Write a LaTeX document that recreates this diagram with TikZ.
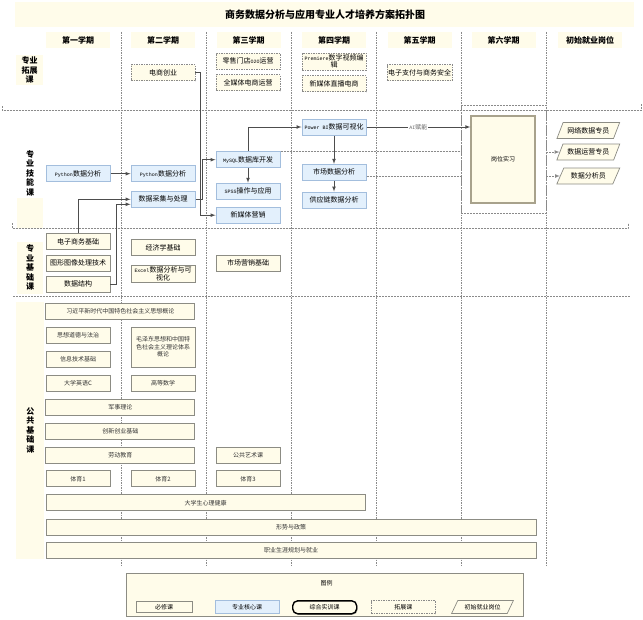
\documentclass[tikz,border=0pt]{standalone}
\usepackage{fontspec}
\setmainfont{Noto Sans CJK SC}
\setmonofont{Liberation Mono}
\usetikzlibrary{arrows}
\usetikzlibrary{shapes.geometric}
\usetikzlibrary{shadows}
\definecolor{cream}{HTML}{FFFCEA}
\definecolor{boxline}{HTML}{8C8C84}
\definecolor{gwline}{HTML}{A8A28C}
\definecolor{coreblue}{HTML}{E3F0FC}
\definecolor{coreline}{HTML}{A3BEDD}
\definecolor{sepgray}{HTML}{8A8A8A}
\definecolor{linkgray}{HTML}{4D4D4D}
\newcommand{\monotxt}[1]{{\fontsize{5}{6}\selectfont\ttfamily #1}}
\tikzstyle{course}=[rectangle, inner sep=1pt, minimum width=64pt, minimum height=16pt, align=center, font=\fontsize{7}{8.5}\selectfont]
\tikzstyle{must}=[course, draw=boxline, fill=cream, line width=0.8pt]
\tikzstyle{pub}=[must, font=\fontsize{6}{7.5}\selectfont, text=black!80]
\tikzstyle{core}=[course, draw=coreline, fill=coreblue, line width=1pt]
\tikzstyle{ext}=[course, draw=sepgray, fill=cream, line width=0.7pt, dash pattern=on 1.5pt off 1pt]
\tikzstyle{shixi}=[course, draw=black, fill=cream, line width=1.4pt, rounded corners=5pt, drop shadow={shadow xshift=1pt, shadow yshift=-1pt}]
\tikzstyle{job}=[trapezium, trapezium left angle=58, trapezium right angle=122, trapezium stretches=true, inner sep=1pt, minimum width=63pt, minimum height=16pt, draw=boxline, fill=cream, line width=0.7pt, font=\fontsize{7}{8.5}\selectfont]
\tikzstyle{termhead}=[rectangle, fill=cream, minimum width=64pt, minimum height=16pt, font=\fontsize{8}{9}\selectfont\bfseries]
\tikzstyle{rowlab}=[rectangle, fill=cream, inner sep=0pt, align=center, font=\fontsize{8}{9.5}\selectfont\bfseries]
\tikzstyle{vline}=[sepgray, line width=0.5pt, dash pattern=on 1.5pt off 1pt]
\tikzstyle{hsep}=[sepgray, line width=0.6pt, dash pattern=on 2pt off 1pt]
\tikzstyle{conn}=[linkgray, line width=0.7pt]
\tikzstyle{dconn}=[conn, sepgray, dash pattern=on 2pt off 1pt]
\tikzset{>=latex}

\begin{document}
\begin{tikzpicture}[x=1pt, y=-1pt]
\useasboundingbox (0,0) rectangle (643,619);

\fill[cream] (15,2) rectangle (634,27);
\node[font=\fontsize{10}{12}\selectfont\bfseries] (title) at (325,14.5) {商务数据分析与应用专业人才培养方案拓扑图};

\foreach \x in {121, 206, ..., 546}
	\draw[vline] (\x,32) -- (\x,567);

\draw[hsep] (2,106) -- (2,110.5) -- (641,110.5) -- (641,104);
\draw[hsep] (12,223) -- (12,228.5) -- (628,228.5) -- (628,223);
\draw[hsep] (13,296) -- (630,296);

\foreach \n/\x/\t in {1/78/第一学期, 2/163/第二学期, 3/248.5/第三学期, 4/334/第四学期, 5/419.5/第五学期, 6/503.5/第六学期, 7/590/初始就业岗位}
	\node[termhead] (term\n) at (\x,40) {\t};

% row labels
\node[rowlab, minimum width=27pt, minimum height=30pt] (labtz) at (29.5,70) {专业\\拓展\\课};
\fill[cream] (17,198) rectangle (43,228);
\node[rowlab, fill=none] (labjn) at (30,173) {专\\业\\技\\能\\课};
\node[rowlab, minimum width=26pt, minimum height=52pt] (labjc) at (30,267.5) {专\\业\\基\\础\\课};
\node[rowlab, minimum width=28pt, minimum height=257pt] (labgg) at (30.4,430.2) {公\\共\\基\\础\\课};

\node[ext] (dscy) at (163,72.5) {电商创业};
\node[ext] (lsmd) at (248,61) {零售门店\monotxt{O2O}运营};
\node[ext] (qmtds) at (248,82.5) {全媒体电商运营};
\node[ext, font=\fontsize{7}{7.5}\selectfont, minimum height=17pt] (prem) at (334,61.5) {\monotxt{Premiere}数字视频编\\辑};
\node[ext] (zbds) at (334,83.5) {新媒体直播电商};
\node[ext] (dzzf) at (419.5,72.5) {电子支付与商务安全};

\node[core] (py1) at (78,173.7) {\monotxt{Python}数据分析};
\node[core] (py2) at (163,173.7) {\monotxt{Python}数据分析};
\node[core] (caiji) at (163,199.3) {数据采集与处理};
\node[core] (mysql) at (248,159.7) {\monotxt{MySQL}数据库开发};
\node[core] (spss) at (248,191.2) {\monotxt{SPSS}操作与应用};
\node[core] (xmtyx) at (248,215.2) {新媒体营销};
\node[core] (pbi) at (334,127) {\monotxt{Power BI}数据可视化};
\node[core] (scsj) at (334,172.3) {市场数据分析};
\node[core] (gyl) at (334,200) {供应链数据分析};
\node[draw=sepgray, line width=0.6pt, dash pattern=on 2pt off 1pt, minimum width=85pt, minimum height=108pt, inner sep=0pt] (frame) at (503.5,159) {};
\node[must, draw=gwline, line width=1.4pt, minimum height=87pt, font=\fontsize{6}{7}\selectfont] (gwsx) at (503,159.5) {岗位实习};

\node[job] (wlsj) at (588.3,130.5) {网络数据专员};
\node[job] (sjyy) at (588.3,152) {数据运营专员};
\node[job] (sjfx) at (588.3,176) {数据分析员};

\node[must] (dzsw) at (78,241.7) {电子商务基础};
\node[must] (txcl) at (78,263.3) {图形图像处理技术};
\node[must] (sjjg) at (78,284.3) {数据结构};
\node[must] (jjx) at (163,247.3) {经济学基础};
\node[must, font=\fontsize{7}{7.5}\selectfont, minimum height=17pt] (excel) at (163,274) {\monotxt{Excel}数据分析与可\\视化};
\node[must] (scyx) at (248,263.3) {市场营销基础};

\node[pub, minimum width=149pt] (xjp) at (120.3,311.3) {习近平新时代中国特色社会主义思想概论};
\node[pub] (sxdd) at (78,335.3) {思想道德与法治};
\node[pub] (xxjs) at (78,359) {信息技术基础};
\node[pub] (dxyy) at (78,383) {大学英语C};
\node[pub, minimum height=40pt] (mzd) at (163,347.2) {毛泽东思想和中国特\\色社会主义理论体系\\概论};
\node[pub] (gdsx) at (163,383) {高等数学};
\node[pub, minimum width=149pt] (jslr) at (120.3,407) {军事理论};
\node[pub, minimum width=149pt] (cxcy) at (120.3,431.3) {创新创业基础};
\node[pub, minimum width=149pt] (ldjy) at (120.3,455) {劳动教育};
\node[pub] (ggys) at (248,455) {公共艺术课};
\node[pub] (ty1) at (78,478.7) {体育1};
\node[pub] (ty2) at (163,478.7) {体育2};
\node[pub] (ty3) at (248,478.7) {体育3};
\node[pub, minimum width=319.5pt] (xljk) at (205.7,502.7) {大学生心理健康};
\node[pub, minimum width=490pt] (xszc) at (291,527) {形势与政策};
\node[pub, minimum width=490pt] (zysy) at (291,550.7) {职业生涯规划与就业};

\draw[conn,->] (py1) -- (py2);
\draw[conn,->] (dzsw.north) |- (caiji.west);
\draw[conn,->] (sjjg.east) -- ++(6,0) |- ([yshift=-5pt]caiji.west);
\draw[conn,->] (caiji.east) -- ++(7,0) |- (mysql.west);
\draw[conn,->] (dscy.east) -- ++(5,0) |- (xmtyx.west);
\draw[conn,->] (mysql) -- (spss);
\draw[conn,->] (mysql.north) |- (pbi.west);
\draw[conn,->] (pbi) -- (scsj);
\draw[conn,->] (scsj) -- (gyl);
\draw[conn,->] (pbi.east) -- node[fill=white, inner sep=1pt, font=\fontsize{6}{7}\selectfont, text=black!60] (aifn) {\monotxt{AI}赋能} (pbi.east -| gwsx.west);
\draw[dconn] (mysql.north east) -- (mysql.north east -| frame.west);
\draw[dconn] ([yshift=-4pt]scsj.east) -- ([yshift=-4pt]scsj.east -| frame.west);
\draw[dconn,->] (sjyy.west -| frame.east) -- (sjyy.west);
\draw[dconn,->] (sjfx.west -| frame.east) -- (sjfx.west);

% legend
\node[draw=boxline, fill=cream, line width=0.8pt, minimum width=397pt, minimum height=43pt] (legend) at (325.3,595) {};
\node[font=\fontsize{6}{7}\selectfont] (legtitle) at (326.7,583) {图例};
\node[must, minimum width=56pt, minimum height=11pt, font=\fontsize{6}{7}\selectfont] (lgmust) at (164,607) {必修课};
\node[core, minimum height=13pt, font=\fontsize{6}{7}\selectfont] (lgcore) at (247,607) {专业核心课};
\node[shixi, minimum height=13pt, font=\fontsize{6}{7}\selectfont] (lgsx) at (324.7,607.3) {综合实训课};
\node[ext, minimum height=13pt, fill=none, font=\fontsize{6}{7}\selectfont] (lgext) at (403.3,607) {拓展课};
\node[job, minimum width=62pt, minimum height=13pt, font=\fontsize{6}{7}\selectfont] (lgjob) at (482.5,607) {初始就业岗位};

\end{tikzpicture}
\end{document}
